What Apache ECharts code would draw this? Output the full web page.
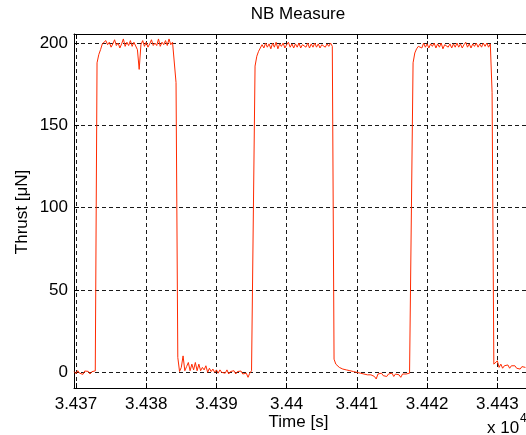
<!DOCTYPE html>
<html>
<head>
<meta charset="utf-8">
<script src="https://cdn.jsdelivr.net/npm/echarts@6/dist/echarts.min.js"></script>
<style>html,body{margin:0;padding:0;background:#fff;}#c{width:526px;height:435px;}</style>
</head>
<body>
<div id="c"></div>
<script>
// ---- data ----
const titleText = 'NB Measure';
const xName = 'Time [s]';
const yName = 'Thrust [μN]';
const startTime = 34369.75;   // s, first sample
const sampleStep = 0.25;      // s between samples
const xTicks = [34370, 34380, 34390, 34400, 34410, 34420, 34430];
const yTicks = [0, 50, 100, 150, 200];
const thrust = [
  0.5, -0.8, 1.0, -0.5, 0.3, -1.2, 0.8, -0.3, 0.6, -1.0,
  0.4, -0.6, 0.9, 188, 193, 196, 199.5, 198.5, 201.5, 199,
  200.5, 197.5, 199.5, 202, 198.5, 200, 197, 199.5, 202.5, 198,
  200.5, 198.5, 201.5, 198, 200.5, 199.5, 196, 184, 199, 201.5,
  198, 200.5, 197.5, 199.5, 202, 198.5, 200, 198.5, 202.5, 198,
  200.5, 199, 201.5, 198.5, 202.5, 199, 200.5, 199.5, 176, 9,
  0.5, 3, 10, 1, 3.5, 6, 1, 5, 1.5, 6,
  1, 5, 1, 3, 1.5, 4, 0, 2.5, 0.5, 2,
  0, 1.5, -0.5, 1.5, 0, 1, -0.5, 1.5, -1, 0.5,
  0, 1, -1, 0.5, -0.5, 0.8, -1, 0, -0.5, -3,
  -0.5, 1, 2, 186, 192, 195, 197, 199, 197, 200,
  197.5, 199.5, 196.5, 200, 197.5, 200.5, 196.5, 199.5, 198, 200,
  197, 199, 200.5, 197.5, 199.5, 197, 199.5, 197.5, 200, 197,
  199, 199.5, 197.5, 200, 197, 199.5, 197.5, 200, 197.5, 199.5,
  197, 199, 200, 197.5, 199.5, 198, 200, 198, 8, 5,
  4.5, 3, 4, 2, 3, 1.5, 2.5, 1, 2, 0.5,
  1.5, 0, 1, -0.5, 0.5, -1, 0, -1.5, -0.5, -1.5,
  -1, -2.5, -4, -1, -2, -0.5, -2, -1, -2.5, -1,
  -2, -0.5, -2.5, -1, -2, -1.5, -3, -1, -2, -1,
  -2, -0.5, -1, 188, 194, 196.5, 198, 199, 197, 200,
  197.5, 199.5, 197, 199.5, 198, 200, 197, 199.5, 197.5, 200,
  196.5, 199, 200, 197.5, 199.5, 197, 199.5, 197.5, 200, 197.5,
  199.5, 197, 199, 200.5, 197.5, 199.5, 197, 199.5, 198, 200,
  197.5, 199.5, 197.5, 200, 198, 200, 197.5, 199.5, 170, 5,
  4, 7, 3, 5, 2.5, 4, 3, 4.5, 2.5, 4,
  3, 4, 2.5, 3.5, 2, 3.5, 2.5, 3
];

// ---- chart ----
const FONT = '"Liberation Sans", Arial, Helvetica, sans-serif';
const FS = 17;
const series = thrust.map((v, i) => [startTime + i * sampleStep, v]);
const fmtX = v => String(parseFloat((v / 10000).toFixed(4)));

const chart = echarts.init(document.getElementById('c'), null, {renderer: 'canvas'});
const gridStyle = {show: true, lineStyle: {color: '#1a1a1a', width: 1, type: [4, 3]}};
chart.setOption({
  animation: false,
  backgroundColor: '#fff',
  grid: {left: 74, top: 34, right: -5, bottom: 47, containLabel: false},
  xAxis: [{
    type: 'value', min: 34369.72, max: 34434.08, position: 'bottom',
    axisLine: {show: true, onZero: false, lineStyle: {color: '#000', width: 1}},
    axisTick: {show: true, inside: true, length: 5, customValues: xTicks, lineStyle: {color: '#000'}},
    axisLabel: {show: true, customValues: xTicks, formatter: fmtX, color: '#000', fontSize: FS, fontFamily: FONT, margin: 8},
    splitLine: gridStyle
  }, {
    type: 'value', min: 34369.72, max: 34434.08, position: 'top',
    axisLine: {show: true, onZero: false, lineStyle: {color: '#000', width: 1}},
    axisTick: {show: true, inside: true, length: 5, customValues: xTicks, lineStyle: {color: '#000'}},
    axisLabel: {show: false},
    splitLine: {show: false}
  }],
  yAxis: [{
    type: 'value', min: -9.5, max: 205.5, position: 'left',
    axisLine: {show: true, onZero: false, lineStyle: {color: '#000', width: 1}},
    axisTick: {show: true, inside: true, length: 5, customValues: yTicks, lineStyle: {color: '#000'}},
    axisLabel: {show: true, customValues: yTicks, color: '#000', fontSize: FS, fontFamily: FONT, margin: 6},
    splitLine: gridStyle
  }],
  series: [{
    type: 'line', data: series, xAxisIndex: 0, yAxisIndex: 0,
    showSymbol: false, symbol: 'none', smooth: false,
    lineStyle: {color: '#ff2a00', width: 1},
    clip: true
  }],
  graphic: [
    {type: 'text', x: 298, y: 14.5, style: {text: titleText, fill: '#000', font: FS + 'px ' + FONT, textAlign: 'center', textVerticalAlign: 'middle'}},
    {type: 'text', x: 298.5, y: 422, style: {text: xName, fill: '#000', font: FS + 'px ' + FONT, textAlign: 'center', textVerticalAlign: 'middle'}},
    {type: 'text', x: 22, y: 212, rotation: Math.PI / 2, style: {text: yName, fill: '#000', font: FS + 'px ' + FONT, textAlign: 'center', textVerticalAlign: 'middle'}},
    {type: 'text', x: 487, y: 428, style: {text: 'x 10', fill: '#000', font: FS + 'px ' + FONT, textAlign: 'left', textVerticalAlign: 'middle'}},
    {type: 'text', x: 520, y: 419, style: {text: '4', fill: '#000', font: '12px ' + FONT, textAlign: 'left', textVerticalAlign: 'middle'}}
  ]
});
</script>
</body>
</html>
